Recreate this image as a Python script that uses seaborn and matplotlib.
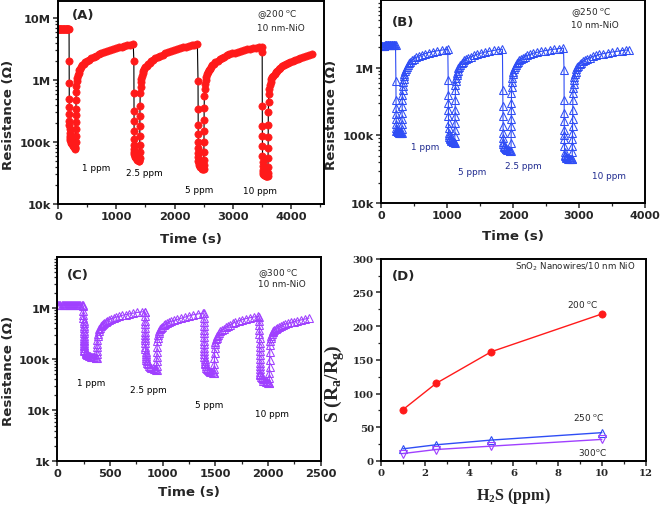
import numpy as np
import matplotlib
matplotlib.use("Agg")
import matplotlib.pyplot as plt
from matplotlib.ticker import FixedLocator, FixedFormatter, LogLocator, MultipleLocator, NullFormatter
import seaborn as sns

# ---------------- data (time in s, resistance in kOhm) ----------------
# Panel A: 200 C, red circles
time_a = [0, 10, 20, 30, 40, 50, 60, 70, 80, 90, 100, 110, 120, 130, 140, 150, 160, 170, 180, 190,
          191, 192, 193, 194, 195, 196, 197, 198, 199, 200,
          205, 212, 220, 230, 240, 252, 264, 276, 288, 296,
          300, 301, 302, 303, 304, 305, 306,
          308, 312, 316, 322, 330, 340, 352, 366, 382, 400, 420, 445, 470, 500, 535, 570, 610, 650, 695, 740,
          790, 840, 890, 940, 990, 1040, 1090, 1140, 1190, 1240, 1290,
          1301, 1302, 1303, 1304, 1305, 1306, 1307, 1308, 1309, 1310,
          1318, 1328, 1338, 1350, 1362, 1374, 1386, 1395,
          1400, 1401, 1402, 1403, 1404, 1405, 1406,
          1410, 1415, 1422, 1430, 1440, 1452, 1466, 1482, 1500, 1520, 1545, 1570, 1600, 1635, 1670, 1710, 1750,
          1795, 1840, 1890, 1940, 1990, 2040, 2090, 2140, 2190, 2240, 2290, 2340, 2390,
          2401, 2402, 2403, 2404, 2405, 2406, 2407, 2408, 2409, 2410,
          2418, 2428, 2438, 2450, 2462, 2474, 2486, 2495,
          2500, 2501, 2502, 2503, 2504, 2505, 2506,
          2510, 2515, 2522, 2530, 2540, 2552, 2566, 2582, 2600, 2620, 2645, 2670, 2700, 2735, 2770, 2810, 2850,
          2895, 2940, 2990, 3040, 3090, 3140, 3190, 3240, 3290, 3340, 3390, 3440, 3490,
          3501, 3502, 3503, 3504, 3505, 3506, 3507, 3508, 3509, 3510,
          3518, 3528, 3538, 3550, 3562, 3574, 3586, 3595,
          3600, 3601, 3602, 3603, 3604, 3605, 3606,
          3610, 3616, 3624, 3634, 3646, 3660, 3676, 3694, 3714, 3736, 3760, 3786, 3814, 3844, 3876, 3910, 3946,
          3984, 4024, 4066, 4110, 4156, 4204, 4254, 4304, 4350]
res_a = [6650, 6600, 6700, 6650, 6600, 6650, 6700, 6600, 6650, 6600, 6650, 6700, 6650, 6600, 6650, 6600, 6650, 6700, 6650, 6600,
         2000, 900, 500, 370, 280, 220, 185, 160, 140, 125,
         115, 108, 102, 97, 93, 89, 85, 82, 79, 77,
         82, 100, 125, 160, 210, 270, 340,
         480, 650, 800, 950, 1080, 1200, 1320, 1430, 1530, 1630, 1720, 1820, 1920, 2030, 2140, 2250, 2370, 2480, 2600, 2720,
         2840, 2950, 3060, 3160, 3260, 3360, 3460, 3560, 3650, 3740, 3830,
         2050, 610, 320, 220, 150, 110, 90, 78, 70, 64,
         60, 57, 55, 53, 52, 51, 50, 50,
         55, 68, 90, 125, 180, 260, 380,
         620, 780, 920, 1050, 1180, 1300, 1420, 1530, 1620, 1710, 1810, 1910, 2010, 2120, 2230, 2350, 2460,
         2580, 2700, 2820, 2940, 3050, 3160, 3270, 3370, 3460, 3550, 3640, 3720, 3790,
         980, 340, 190, 135, 100, 80, 66, 57, 50, 46,
         43, 41, 40, 39, 38, 37, 37, 37,
         42, 52, 70, 100, 150, 230, 350,
         560, 720, 860, 990, 1110, 1230, 1340, 1440, 1530, 1620, 1720, 1810, 1920, 2040, 2150, 2270, 2380,
         2490, 2590, 2690, 2780, 2870, 2950, 3030, 3110, 3190, 3260, 3330, 3400, 3460,
         2800, 385, 183, 127, 87, 60, 48, 41, 36, 33,
         31, 30, 29, 29, 28, 28, 28, 28,
         32, 40, 55, 80, 120, 190, 300,
         450, 600, 730, 840, 940, 1030, 1110, 1180, 1260, 1340, 1420, 1500, 1580, 1660, 1740, 1820, 1900,
         1980, 2050, 2130, 2210, 2290, 2370, 2450, 2530, 2600]

# Panel B: 250 C, blue open triangles
time_b = [0, 10, 20, 30, 40, 50, 60, 70, 80, 90, 100, 110, 120, 130, 140, 150, 160, 170, 180, 190, 200, 210, 220,
          226, 227, 228, 229, 230, 231, 232, 233,
          236, 240, 245, 250, 256, 262, 270, 278, 286, 294, 302, 310,
          316, 317, 318, 319, 320, 321, 322, 323,
          326, 330, 335, 341, 348, 356, 366, 378, 392, 408, 426, 446, 470, 500, 535, 575, 620, 670, 725, 785,
          850, 920, 990, 1012,
          1018, 1019, 1020, 1021, 1022, 1023, 1024, 1025,
          1028, 1033, 1040, 1047, 1055, 1064, 1074, 1084, 1094, 1104, 1112,
          1118, 1119, 1120, 1121, 1122, 1123, 1124, 1125,
          1128, 1133, 1139, 1146, 1154, 1163, 1174, 1187, 1202, 1220, 1240, 1264, 1292, 1325, 1362, 1405, 1455,
          1510, 1570, 1635, 1705, 1775, 1840,
          1846, 1847, 1848, 1849, 1850, 1851, 1852,
          1856, 1862, 1870, 1880, 1890, 1900, 1912, 1924, 1936, 1948, 1960,
          1970, 1971, 1972, 1973, 1974, 1975, 1976, 1977,
          1980, 1985, 1991, 1998, 2006, 2015, 2026, 2039, 2054, 2072, 2092, 2116, 2144, 2177, 2214, 2257, 2305,
          2360, 2420, 2485, 2555, 2625, 2695, 2765,
          2773, 2774, 2775, 2776, 2777, 2778, 2779, 2780, 2781,
          2785, 2792, 2800, 2810, 2822, 2834, 2846, 2858, 2870, 2882, 2892,
          2897, 2898, 2899, 2900, 2901, 2902, 2903, 2904, 2905,
          2908, 2912, 2917, 2923, 2930, 2938, 2948, 2960, 2974, 2990, 3008, 3030, 3056, 3086, 3120, 3160, 3205,
          3255, 3310, 3370, 3435, 3505, 3575, 3645, 3710, 3750]
res_b = [2100, 2110, 2120, 2120, 2130, 2130, 2140, 2140, 2150, 2150, 2150, 2160, 2160, 2170, 2170, 2170, 2180, 2180, 2180, 2190, 2190, 2190, 2200,
         630, 338, 255, 204, 172, 145, 130, 116,
         125, 121, 118, 116, 114, 112, 111, 110, 109, 108, 108, 108,
         110, 125, 145, 175, 215, 270, 330, 400,
         470, 540, 610, 680, 750, 820, 890, 960, 1030, 1100, 1160, 1220, 1290, 1360, 1430, 1500, 1560, 1620, 1680, 1730,
         1780, 1820, 1860, 1880,
         666, 401, 303, 241, 192, 154, 130, 110,
         100, 95, 91, 88, 86, 84, 82, 81, 80, 80, 80,
         78, 98, 122, 154, 192, 241, 338, 475,
         560, 640, 710, 780, 850, 910, 980, 1040, 1100, 1160, 1220, 1280, 1340, 1400, 1460, 1520, 1580,
         1640, 1700, 1750, 1800, 1850, 1880,
         475, 270, 192, 137, 110, 92, 80,
         74, 70, 67, 65, 63, 62, 61, 60, 60, 59, 59,
         59, 78, 110, 137, 172, 241, 303, 428,
         520, 620, 710, 800, 880, 960, 1030, 1100, 1160, 1220, 1280, 1340, 1400, 1460, 1520, 1580, 1640,
         1690, 1740, 1790, 1840, 1880, 1920, 1950,
         935, 338, 216, 163, 122, 100, 87, 70, 56,
         52, 50, 48, 47, 46, 45, 45, 44, 44, 44, 44,
         44, 56, 70, 87, 110, 137, 172, 241, 338,
         420, 500, 580, 660, 740, 810, 880, 950, 1010, 1070, 1120, 1180, 1240, 1300, 1360, 1410, 1470,
         1520, 1570, 1620, 1670, 1710, 1750, 1790, 1820, 1840]

# Panel C: 300 C, purple open triangles
time_c = [0, 10, 20, 30, 40, 50, 60, 70, 80, 90, 100, 110, 120, 130, 140, 150, 160, 170, 180, 190, 200, 210, 220, 230, 240,
          247, 247.5, 248, 248.5, 249, 249.5, 250, 250.5, 251, 251.5, 252, 252.5, 253, 253.5, 254, 254.5, 255, 255.5, 256, 256.5,
          268, 272, 277, 283, 290, 298, 307, 317, 328, 340, 352, 364, 372,
          375, 376, 377, 378, 379, 380,
          383, 387, 392, 398, 405, 413, 422, 432, 444, 458, 474, 492, 512, 535, 560, 588, 618, 650, 685, 722, 760, 800, 830,
          832, 832.5, 833, 833.5, 834, 834.5, 835, 835.5, 836, 836.5, 837, 837.5, 838, 838.5, 839, 839.5,
          842, 848, 855, 863, 872, 882, 893, 905, 917, 928, 938,
          943, 944, 945, 946, 947, 948, 949,
          952, 957, 963, 970, 978, 987, 997, 1009, 1023, 1040, 1060, 1083, 1110, 1140, 1173, 1210, 1250, 1293, 1340, 1385,
          1392, 1392.5, 1393, 1393.5, 1394, 1394.5, 1395, 1395.5, 1396, 1396.5, 1397, 1397.5, 1398, 1398.5, 1399, 1399.5,
          1402, 1408, 1415, 1423, 1432, 1442, 1453, 1464, 1475, 1485,
          1490, 1491, 1492, 1493, 1494, 1495,
          1498, 1502, 1507, 1513, 1520, 1528, 1538, 1550, 1564, 1580, 1598, 1618, 1640, 1665, 1692, 1722, 1755, 1790, 1828, 1868, 1910,
          1918, 1918.5, 1919, 1919.5, 1920, 1920.5, 1921, 1921.5, 1922, 1922.5, 1923, 1923.5, 1924, 1924.5, 1925, 1925.5,
          1928, 1934, 1941, 1949, 1958, 1968, 1979, 1990, 2001, 2010,
          2013, 2014, 2015, 2016, 2017, 2018, 2019,
          2022, 2026, 2031, 2037, 2044, 2052, 2062, 2074, 2088, 2104, 2122, 2142, 2165, 2190, 2218, 2248, 2280, 2315, 2352, 2390]
res_c = [1160, 1160, 1160, 1160, 1160, 1160, 1160, 1160, 1160, 1160, 1160, 1160, 1160, 1160, 1160, 1160, 1160, 1160, 1160, 1160, 1160, 1160, 1160, 1160, 1160,
         1080, 860, 740, 636, 560, 508, 450, 405, 360, 323, 290, 258, 240, 222, 205, 191, 178, 164, 152, 141,
         135, 130, 126, 122, 119, 116, 114, 112, 110, 109, 108, 107, 107,
         107, 125, 145, 170, 200, 236,
         280, 315, 350, 385, 415, 445, 470, 495, 520, 545, 570, 595, 620, 645, 670, 695, 720, 745, 770, 795, 820, 840, 855,
         850, 700, 560, 480, 400, 340, 296, 260, 236, 205, 175, 155, 140, 128, 117, 106,
         98, 90, 84, 79, 75, 71, 68, 66, 64, 63, 62,
         62, 75, 92, 112, 137, 170, 222,
         260, 295, 330, 360, 385, 410, 435, 458, 480, 503, 526, 550, 575, 600, 628, 660, 700, 740, 770, 795,
         790, 650, 540, 450, 380, 320, 270, 230, 195, 168, 145, 127, 112, 100, 92, 85,
         79, 73, 68, 64, 61, 58, 56, 55, 54, 53,
         53, 65, 82, 103, 130, 164,
         195, 220, 245, 265, 285, 302, 325, 348, 372, 395, 418, 440, 470, 500, 530, 560, 590, 620, 645, 668, 688,
         680, 560, 460, 380, 310, 255, 210, 175, 145, 120, 100, 85, 73, 64, 57, 52,
         48, 45, 42, 40, 38, 37, 36, 35, 34, 34,
         34, 42, 54, 70, 95, 135, 191,
         230, 260, 290, 315, 335, 352, 372, 392, 412, 432, 450, 468, 488, 506, 524, 542, 562, 585, 610, 635]

# Panel D: response vs H2S concentration
conc_d = [1, 2.5, 5, 10]
s_200 = [76, 115, 162, 218]
s_250 = [18, 24, 31, 42]
s_300 = [11, 17, 22, 32]

ppm_labels_a = ["1 ppm", "2.5 ppm", "5 ppm", "10 ppm"]
ppm_labels_b = ["1 ppm", "5 ppm", "2.5 ppm", "10 ppm"]
ppm_labels_c = ["1 ppm", "2.5 ppm", "5 ppm", "10 ppm"]

# ---------------- style ----------------
sns.set_style("ticks")
plt.rcParams["font.family"] = ["DejaVu Sans"]
plt.rcParams["mathtext.fontset"] = "custom"
plt.rcParams["mathtext.bf"] = "Liberation Serif:bold"
plt.rcParams["mathtext.rm"] = "Liberation Serif:bold"
plt.rcParams["mathtext.sf"] = "DejaVu Sans"

RED = "#ff1a1a"
BLUE = "#2f4df5"
PURPLE = "#a040ff"
NAVY = "#1f2a8f"

fig = plt.figure(figsize=(6.61, 5.06), dpi=100)
axA = fig.add_axes([0.0877, 0.5949, 0.4024, 0.4010])
axB = fig.add_axes([0.5764, 0.5968, 0.3994, 0.4010])
axC = fig.add_axes([0.0867, 0.0864, 0.3982, 0.4038])
axD = fig.add_axes([0.5760, 0.0870, 0.4014, 0.3998])


def style_axes(ax):
    for sp in ax.spines.values():
        sp.set_linewidth(1.4)
        sp.set_color("black")
    ax.tick_params(which="major", direction="out", length=3.5, width=1.1, labelsize=8.2, pad=1.5)
    ax.tick_params(which="minor", direction="out", length=2, width=0.9)
    for lab in ax.get_xticklabels() + ax.get_yticklabels():
        lab.set_fontweight("bold")


def log_axis(ax, lo, hi, ticks, labels):
    ax.set_yscale("log")
    ax.set_ylim(lo, hi)
    ax.yaxis.set_major_locator(FixedLocator(ticks))
    ax.yaxis.set_major_formatter(FixedFormatter(labels))
    ax.yaxis.set_minor_locator(LogLocator(base=10, subs=np.arange(2, 10)))
    ax.yaxis.set_minor_formatter(NullFormatter())


def sens_text(ax, xs, ys, texts, color):
    for x, y, s in zip(xs, ys, texts):
        ax.text(x, y, s, transform=ax.transAxes, fontsize=6.4, color=color, ha="left", va="center")


# ---- Panel A ----
sns.lineplot(x=time_a, y=np.array(res_a) * 1e3, ax=axA, sort=False, estimator=None,
             color="black", lw=0.8, marker="o", markersize=5.2,
             markerfacecolor=RED, markeredgecolor=RED, markeredgewidth=0.5)
log_axis(axA, 1e4, 1.88e7, [1e4, 1e5, 1e6, 1e7], ["10k", "100k", "1M", "10M"])
axA.set_xlim(0, 4560)
axA.xaxis.set_major_locator(MultipleLocator(1000))
axA.xaxis.set_minor_locator(MultipleLocator(500))
axA.set_xlabel("Time (s)", fontsize=9.6, fontweight="bold")
axA.set_ylabel("Resistance (Ω)", fontsize=9.6, fontweight="bold")
axA.xaxis.set_label_coords(0.5, -0.138)
axA.yaxis.set_label_coords(-0.162, 0.443)
axA.text(0.053, 0.936, "(A)", transform=axA.transAxes, fontsize=9.5, fontweight="bold", va="center")
axA.text(0.748, 0.936, "@200 $^{\\mathsf{o}}$C", transform=axA.transAxes, fontsize=6.4, va="center")
axA.text(0.748, 0.872, "10 nm-NiO", transform=axA.transAxes, fontsize=6.4, va="center")
sens_text(axA, [0.090, 0.256, 0.477, 0.695], [0.182, 0.153, 0.069, 0.064], ppm_labels_a, "black")
style_axes(axA)

# ---- Panel B ----
sns.lineplot(x=time_b, y=np.array(res_b) * 1e3, ax=axB, sort=False, estimator=None,
             color=BLUE, lw=0.8, marker="^", markersize=5.4,
             markerfacecolor="none", markeredgecolor=BLUE, markeredgewidth=0.75)
log_axis(axB, 1e4, 1e7, [1e4, 1e5, 1e6], ["10k", "100k", "1M"])
axB.set_xlim(0, 4000)
axB.xaxis.set_major_locator(MultipleLocator(1000))
axB.xaxis.set_minor_locator(MultipleLocator(500))
axB.set_xlabel("Time (s)", fontsize=9.6, fontweight="bold")
axB.set_ylabel("Resistance (Ω)", fontsize=9.6, fontweight="bold")
axB.xaxis.set_label_coords(0.5, -0.128)
axB.yaxis.set_label_coords(-0.162, 0.44)
axB.text(0.041, 0.897, "(B)", transform=axB.transAxes, fontsize=9.5, fontweight="bold", va="center")
axB.text(0.718, 0.941, "@250 $^{\\mathsf{o}}$C", transform=axB.transAxes, fontsize=6.4, va="center")
axB.text(0.718, 0.882, "10 nm-NiO", transform=axB.transAxes, fontsize=6.4, va="center")
sens_text(axB, [0.115, 0.293, 0.469, 0.801], [0.281, 0.153, 0.187, 0.138], ppm_labels_b, NAVY)
style_axes(axB)
axB.tick_params(axis="x", labelsize=8.0)

# ---- Panel C ----
sns.lineplot(x=time_c, y=np.array(res_c) * 1e3, ax=axC, sort=False, estimator=None,
             color=PURPLE, lw=0.8, marker="^", markersize=5.3,
             markerfacecolor="none", markeredgecolor=PURPLE, markeredgewidth=0.75)
log_axis(axC, 1e3, 1e7, [1e3, 1e4, 1e5, 1e6], ["1k", "10k", "100k", "1M"])
axC.set_xlim(0, 2500)
axC.xaxis.set_major_locator(MultipleLocator(500))
axC.xaxis.set_minor_locator(MultipleLocator(250))
axC.set_xlabel("Time (s)", fontsize=9.6, fontweight="bold")
axC.set_ylabel("Resistance (Ω)", fontsize=9.6, fontweight="bold")
axC.xaxis.set_label_coords(0.5, -0.118)
axC.yaxis.set_label_coords(-0.161, 0.449)
axC.text(0.037, 0.912, "(C)", transform=axC.transAxes, fontsize=9.5, fontweight="bold", va="center")
axC.text(0.762, 0.922, "@300 $^{\\mathsf{o}}$C", transform=axC.transAxes, fontsize=6.4, va="center")
axC.text(0.762, 0.868, "10 nm-NiO", transform=axC.transAxes, fontsize=6.4, va="center")
sens_text(axC, [0.075, 0.276, 0.523, 0.751], [0.387, 0.353, 0.280, 0.236], ppm_labels_c, "black")
style_axes(axC)

# ---- Panel D ----
sns.lineplot(x=conc_d, y=s_200, ax=axD, sort=False, estimator=None, color=RED, lw=1.0,
             marker="o", markersize=5.2, markerfacecolor=RED, markeredgecolor=RED, markeredgewidth=0.5)
sns.lineplot(x=conc_d, y=s_250, ax=axD, sort=False, estimator=None, color=BLUE, lw=1.0,
             marker="^", markersize=6.2, markerfacecolor="none", markeredgecolor=BLUE, markeredgewidth=0.8)
sns.lineplot(x=conc_d, y=s_300, ax=axD, sort=False, estimator=None, color=PURPLE, lw=1.0,
             marker="v", markersize=6.2, markerfacecolor="none", markeredgecolor=PURPLE, markeredgewidth=0.8)
axD.set_xlim(0, 12)
axD.set_ylim(0, 300)
axD.xaxis.set_major_locator(MultipleLocator(2))
axD.xaxis.set_minor_locator(MultipleLocator(1))
axD.yaxis.set_major_locator(MultipleLocator(50))
axD.yaxis.set_minor_locator(MultipleLocator(25))
axD.set_xlabel("H$_\\mathbf{2}$S (ppm)", fontsize=11.5, fontweight="bold", family="Liberation Serif")
axD.set_ylabel("S (R$_\\mathbf{a}$/R$_\\mathbf{g}$)", fontsize=14, fontweight="bold", family="Liberation Serif")
axD.xaxis.set_label_coords(0.5, -0.119)
axD.yaxis.set_label_coords(-0.128, 0.387)
axD.text(0.043, 0.919, "(D)", transform=axD.transAxes, fontsize=9.5, fontweight="bold", va="center")
axD.text(0.506, 0.964, "SnO$_\\mathsf{2}$ Nanowires/10 nm NiO", transform=axD.transAxes, fontsize=6.2, va="center")
axD.text(0.702, 0.776, "200 $^{\\mathsf{o}}$C", transform=axD.transAxes, fontsize=6.4, va="center")
axD.text(0.725, 0.218, "250 $^{\\mathsf{o}}$C", transform=axD.transAxes, fontsize=6.4, va="center")
axD.text(0.744, 0.049, "300$^{\\mathsf{o}}$C", transform=axD.transAxes, fontsize=6.4, va="center")
style_axes(axD)
for lab in axD.get_xticklabels() + axD.get_yticklabels():
    lab.set_fontfamily("DejaVu Serif")
    lab.set_fontsize(7.3)

fig.savefig("out.png", dpi=100)
